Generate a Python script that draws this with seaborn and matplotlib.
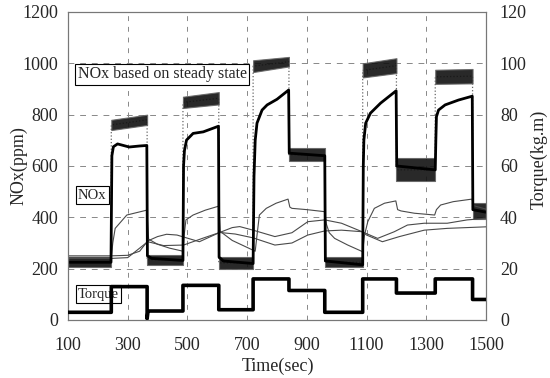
import numpy as np
import pandas as pd
import matplotlib
matplotlib.use("Agg")
import matplotlib.pyplot as plt
import seaborn as sns

# ---------------- data ----------------
# steady-state NOx band: segment boundaries (sec) and band limits (ppm)
seg_edges = [100, 245, 365, 485, 605, 720, 840, 960, 1087, 1200, 1330, 1455, 1500]
ss_low_start  = [205, 740, 215, 826, 200, 966, 618, 205, 945, 540, 920, 395]
ss_high_start = [245, 780, 255, 870, 245, 1012, 670, 245, 1000, 630, 975, 455]
ss_low_end    = [205, 760, 215, 840, 200, 988, 618, 205, 962, 540, 922, 395]
ss_high_end   = [245, 800, 255, 888, 245, 1025, 670, 245, 1020, 630, 978, 455]

# measured NOx (thick line)
nox_t = [100, 244, 247, 252, 266, 305, 340, 364, 366, 380, 485,
         487, 490, 497, 519, 553, 604, 606, 620, 720,
         723, 727, 733, 750, 767, 800, 839, 841, 960, 962, 1087,
         1089, 1091, 1097, 1113, 1147, 1199, 1201, 1330,
         1332, 1334, 1341, 1363, 1408, 1454, 1456, 1500]
nox_v = [225, 225, 640, 675, 686, 674, 678, 680, 250, 240, 232,
         600, 660, 701, 727, 733, 755, 245, 230, 220,
         560, 700, 767, 818, 838, 860, 896, 650, 640, 230, 215,
         600, 701, 767, 806, 845, 893, 600, 585,
         700, 792, 818, 838, 857, 872, 430, 420]

# three thin lines
a_t = [100, 245, 250, 258, 297, 364, 370, 400, 440, 485, 489, 495, 519, 560, 606,
       610, 650, 727, 733, 741, 764, 797, 837, 843, 850, 900, 960, 965, 975, 993,
       1037, 1087, 1093, 1104, 1126, 1160, 1198, 1204, 1215, 1260, 1328, 1334, 1348,
       1390, 1453, 1460, 1500]
a_v = [244, 244, 300, 357, 409, 428, 315, 295, 280, 268, 330, 390, 409, 428, 444,
       345, 310, 268, 330, 409, 435, 455, 471, 440, 435, 430, 422, 375, 340, 318,
       292, 266, 330, 383, 435, 455, 464, 430, 425, 416, 409, 430, 448,
       461, 471, 445, 432]
b_t = [100, 245, 300, 340, 367, 400, 430, 465, 540, 608, 650, 675, 720, 793,
       850, 903, 960, 1016, 1085, 1137, 1193, 1237, 1293, 1370, 1437, 1500]
b_v = [250, 250, 252, 268, 308, 325, 334, 331, 305, 341, 360, 364, 350, 325,
       340, 383, 390, 377, 344, 318, 344, 370, 377, 377, 390, 396]
c_t = [100, 245, 300, 367, 420, 487, 550, 608, 660, 720, 793, 850, 903, 960,
       1016, 1085, 1100, 1153, 1210, 1293, 1370, 1500]
c_v = [240, 240, 243, 305, 290, 292, 318, 341, 335, 320, 292, 300, 331, 347,
       350, 344, 331, 305, 325, 350, 357, 363]

# torque (kg.m), step levels
tq_t = [100, 245, 245, 365, 365, 368, 370, 485, 485, 605, 605, 720, 720, 840, 840,
        960, 960, 1087, 1087, 1200, 1200, 1330, 1330, 1455, 1455, 1500]
tq_v = [3, 3, 13, 13, 0.5, 3.5, 3.5, 3.5, 13.5, 13.5, 4, 4, 16, 16, 11.5,
        11.5, 3, 3, 16, 16, 10.5, 10.5, 16, 16, 8, 8]

xticks = [100, 300, 500, 700, 900, 1100, 1300, 1500]
yticks_left = [0, 200, 400, 600, 800, 1000, 1200]
yticks_right = [0, 20, 40, 60, 80, 100, 120]

# ---------------- plotting ----------------
sns.set_theme(style="white")
plt.rcParams['font.family'] = ['Liberation Serif', 'DejaVu Serif']

fig = plt.figure(figsize=(5.5, 3.78), dpi=100)
ax = fig.add_axes([68/550, 1-320/378, 418/550, 308/378])
ax2 = ax.twinx()

# grid
for x in xticks[1:-1]:
    ax.axvline(x, color='#888888', lw=0.7, ls=(0, (5, 6)), zorder=0)
for y in yticks_left[1:-1]:
    ax.axhline(y, color='#888888', lw=0.7, ls=(0, (6, 6)), zorder=0)

# steady-state band
ss_mid_t, ss_mid_v = [], []
for i in range(len(seg_edges) - 1):
    t0, t1 = seg_edges[i], seg_edges[i + 1]
    ax.fill_between([t0, t1], [ss_low_start[i], ss_low_end[i]],
                    [ss_high_start[i], ss_high_end[i]],
                    color='#111111', alpha=0.9, lw=0.8, edgecolor='#666666', zorder=2)
    ss_mid_t += [t0, t1]
    ss_mid_v += [(ss_low_start[i] + ss_high_start[i]) / 2,
                 (ss_low_end[i] + ss_high_end[i]) / 2]
df_ss = pd.DataFrame({'t': ss_mid_t, 'v': ss_mid_v})
sns.lineplot(data=df_ss, x='t', y='v', ax=ax, color='#666666', lw=0.9,
             ls=':', sort=False, estimator=None, zorder=1)

# thin lines
for tt, vv in [(a_t, a_v), (b_t, b_v), (c_t, c_v)]:
    sns.lineplot(x=tt, y=vv, ax=ax, color='#4a4a4a', lw=0.8,
                 sort=False, estimator=None, zorder=3)

# measured NOx
sns.lineplot(x=nox_t, y=nox_v, ax=ax, color='black', lw=2.0,
             sort=False, estimator=None, zorder=4)

# torque
sns.lineplot(x=tq_t, y=tq_v, ax=ax2, color='black', lw=2.6,
             sort=False, estimator=None, zorder=4)

ax.set_xlim(100, 1500)
ax.set_ylim(0, 1200)
ax2.set_ylim(0, 120)
ax.set_xticks(xticks)
ax.set_yticks(yticks_left)
ax2.set_yticks(yticks_right)

fs = 13
ax.set_xticklabels([str(v) for v in xticks], fontsize=fs)
ax.set_yticklabels([str(v) for v in yticks_left], fontsize=fs)
ax2.set_yticklabels([str(v) for v in yticks_right], fontsize=fs)
ax.tick_params(axis='x', length=0, pad=12)
ax.tick_params(axis='y', length=0, pad=7)
ax2.tick_params(axis='y', length=0, pad=10)

ax.set_xlabel('Time(sec)', fontsize=13)
ax.set_ylabel('NOx(ppm)', fontsize=13)
ax2.set_ylabel('Torque(kg.m)', fontsize=13)
ax.xaxis.set_label_coords(0.502, -0.123)
ax.yaxis.set_label_coords(-0.096, 0.5)
ax2.yaxis.set_label_coords(1.106, 0.52)

for a in (ax, ax2):
    for s in a.spines.values():
        s.set_color('#777777')
        s.set_linewidth(0.8)
    a.grid(False)

box = dict(boxstyle='square,pad=0.15', fc='white', ec='black', lw=0.8)
ax.text(133, 958, 'NOx based on steady state', fontsize=11.5, va='center', ha='left',
        bbox=box, zorder=6)
ax.text(133, 487, 'NOx', fontsize=10.5, va='center', ha='left', bbox=box, zorder=6)
ax.text(133, 101, 'Torque', fontsize=10.5, va='center', ha='left', bbox=box, zorder=6)

fig.savefig('out.png', dpi=100)
